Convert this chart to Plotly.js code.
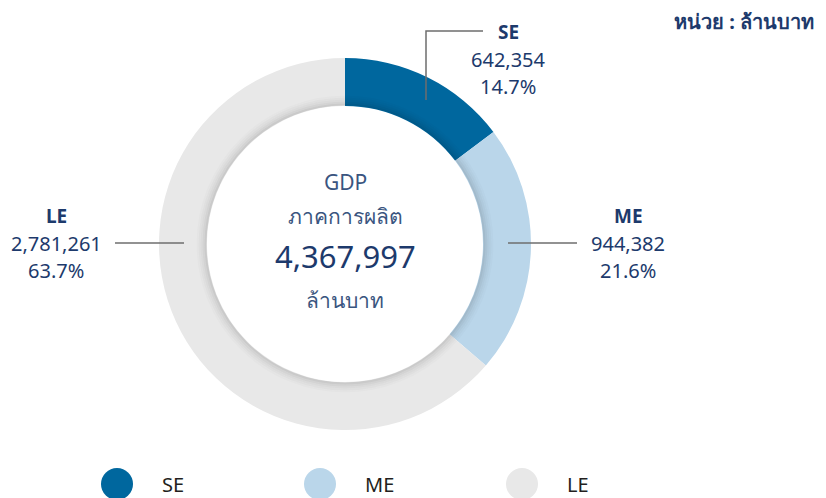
<!DOCTYPE html>
<html>
<head>
<meta charset="utf-8">
<script src="https://cdn.plot.ly/plotly-3.0.1.min.js"></script>
<style>html,body{margin:0;padding:0;background:#fff;}#chart{width:826px;height:498px;}</style>
</head>
<body>
<div id="chart"></div>
<script>
// ---- data ----
const categories = ["SE", "ME", "LE"];
const values = [642354, 944382, 2781261];
const percentLabels = ["14.7%", "21.6%", "63.7%"];
const totalLabel = "4,367,997";
const centerLines = ["GDP", "ภาคการผลิต", "ล้านบาท"];
const unitLabel = "หน่วย : ล้านบาท";

// ---- styles ----
const colors = ["#00679E", "#BAD6EA", "#E8E8E8"];
const navy = "#1D3A6C";
const W = 826, H = 498;
const cx = 345, cy = 244, R = 186, rHole = 138;
const px = x => x / W;
const py = y => 1 - y / H;
const fmt = v => v.toLocaleString("en-US");
const FONT = "Noto Sans, Lato, sans-serif";

const trace = {
  type: "pie",
  labels: categories,
  values: values,
  hole: rHole / R,
  sort: false,
  direction: "clockwise",
  rotation: 0,
  marker: { colors: colors, line: { width: 0 } },
  textinfo: "none",
  hoverinfo: "none",
  showlegend: false,
  domain: { x: [px(cx - R), px(cx + R)], y: [py(cy + R), py(cy - R)] }
};

const shapes = [];
// subtle inner shadow on ring
const shadow = [[139.5, 0.13], [141.5, 0.09], [143.5, 0.06], [145.5, 0.035], [147.5, 0.015]];
shadow.forEach(([r, a]) => {
  shapes.push({ type: "circle", xref: "paper", yref: "paper",
    x0: px(cx - r), x1: px(cx + r), y0: py(cy + r), y1: py(cy - r),
    line: { color: `rgba(0,0,0,${a})`, width: 2 }, layer: "above" });
});
// leader lines
const lineStyle = { color: "#6E6E6E", width: 1.5 };
shapes.push({ type: "path", xref: "paper", yref: "paper",
  path: `M ${px(426)} ${py(100)} L ${px(426)} ${py(31)} L ${px(483)} ${py(31)}`, line: lineStyle, layer: "above" });
shapes.push({ type: "line", xref: "paper", yref: "paper", x0: px(115), x1: px(184), y0: py(243), y1: py(243), line: lineStyle, layer: "above" });
shapes.push({ type: "line", xref: "paper", yref: "paper", x0: px(508), x1: px(577), y0: py(243), y1: py(243), line: lineStyle, layer: "above" });

const annotations = [];
function txt(x, y, text, size, color, bold) {
  annotations.push({ xref: "paper", yref: "paper", x: px(x), y: py(y), xanchor: "center", yanchor: "middle",
    text: bold ? `<b>${text}</b>` : text, showarrow: false, font: { family: FONT, size: size, color: color } });
}
// slice labels
const labelPos = [[508, 32], [628, 216], [56, 216]];
categories.forEach((c, i) => {
  const [x, y] = labelPos[i];
  txt(x, y, c, 19, navy, true);
  txt(x, y + 27, fmt(values[i]), 20, navy, false);
  txt(x, y + 54, percentLabels[i], 20, navy, false);
});
// centre text
txt(cx, 182, centerLines[0], 21, "#3A5580", false);
txt(cx, 216, centerLines[1], 21, "#3A5580", false);
txt(cx, 256, totalLabel, 31, navy, false);
txt(cx, 300, centerLines[2], 21, "#3A5580", false);
// unit
annotations.push({ xref: "paper", yref: "paper", x: px(816), y: py(22), xanchor: "right", yanchor: "middle",
  text: `<b>${unitLabel}</b>`, showarrow: false, font: { family: FONT, size: 20, color: navy } });
// custom legend
const legX = [117, 320, 522];
categories.forEach((c, i) => {
  const lx = legX[i], ly = 484, r = 16;
  shapes.push({ type: "circle", xref: "paper", yref: "paper",
    x0: px(lx - r), x1: px(lx + r), y0: py(ly + r), y1: py(ly - r),
    fillcolor: colors[i], line: { width: 0 } });
  annotations.push({ xref: "paper", yref: "paper", x: px(lx + 43), y: py(484), xanchor: "left", yanchor: "middle",
    text: c, showarrow: false, font: { family: FONT, size: 20, color: "#231F20" } });
});

const layout = {
  width: W, height: H,
  margin: { l: 0, r: 0, t: 0, b: 0 },
  paper_bgcolor: "#fff",
  showlegend: false,
  shapes: shapes,
  annotations: annotations
};
Plotly.newPlot("chart", [trace], layout, { displayModeBar: false, staticPlot: true });
</script>
</body>
</html>
